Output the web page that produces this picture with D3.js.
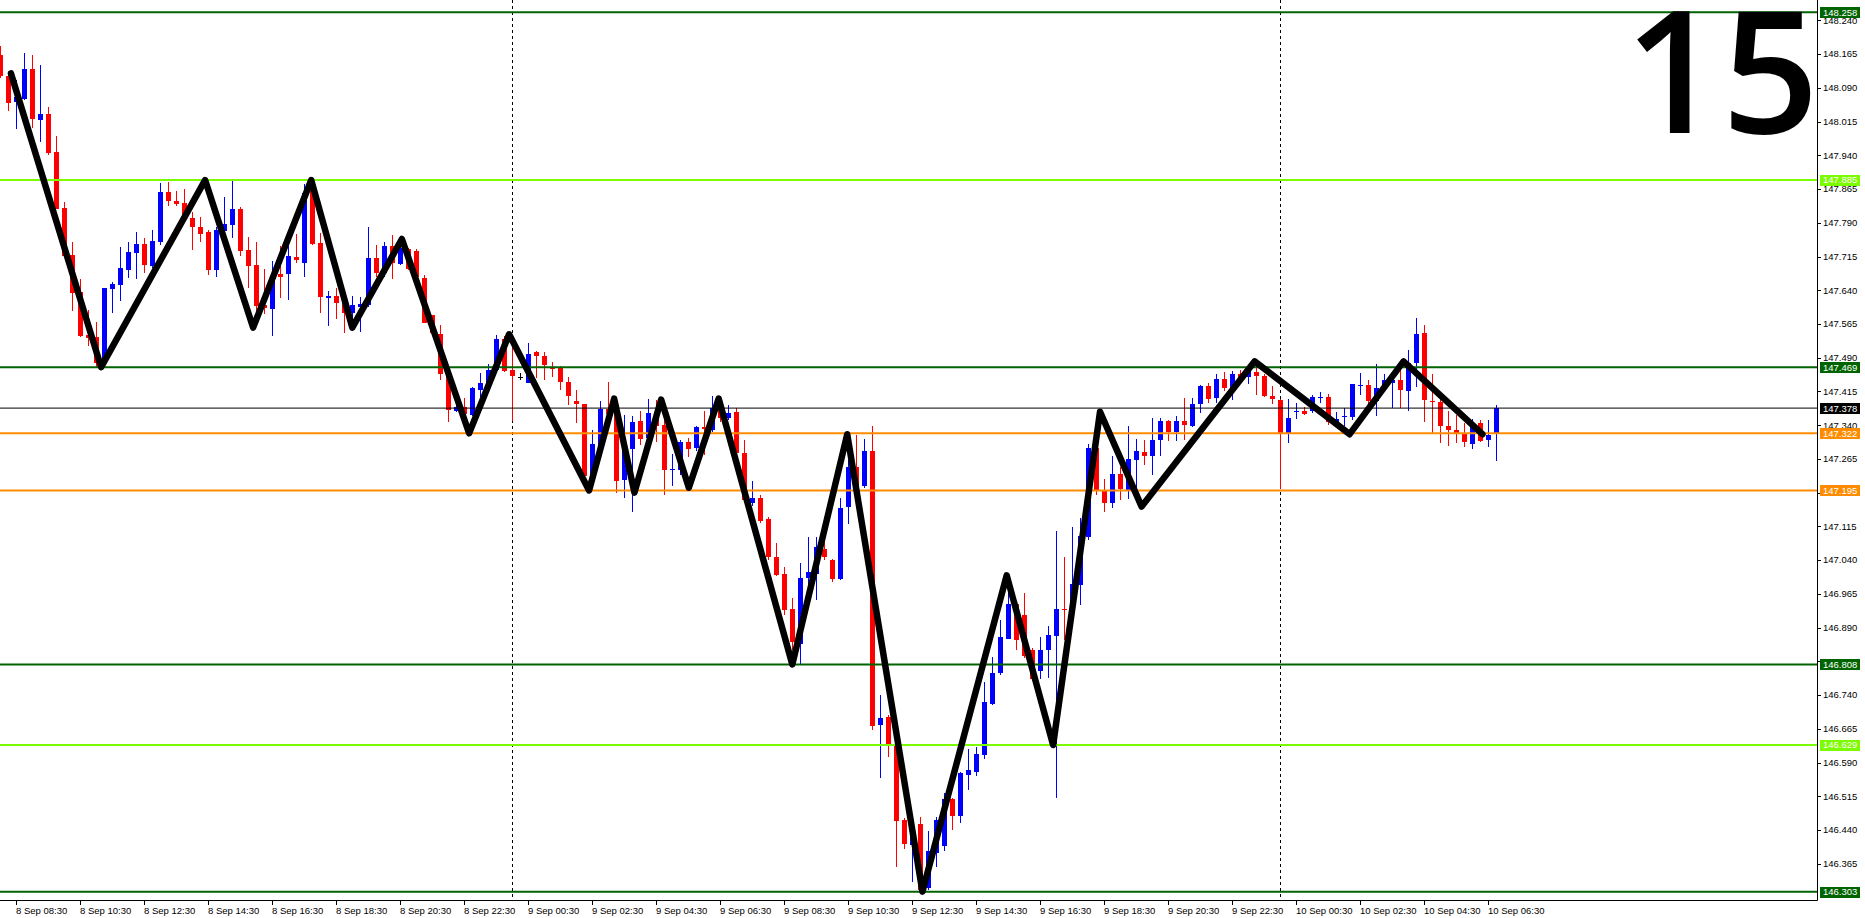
<!DOCTYPE html>
<html><head><meta charset="utf-8">
<script src="https://cdn.jsdelivr.net/npm/d3@7"></script>
<style>html,body{margin:0;padding:0;background:#fff;}svg{display:block;}</style>
</head><body>
<script>
// ---------- DATA ----------
const barStart = "8 Sep 08:00";          // first bar (M15)
const barMinutes = 15;
const opens = [148.163,148.117,148.059,148.067,148.131,148.019,148.032,147.947,147.823,147.718,
147.636,147.541,147.535,147.485,147.644,147.652,147.687,147.722,147.743,147.694,
147.747,147.858,147.838,147.833,147.800,147.781,147.770,147.685,147.772,147.785,
147.821,147.730,147.696,147.607,147.599,147.676,147.677,147.713,147.701,147.863,
147.744,147.623,147.627,147.612,147.590,147.603,147.607,147.712,147.679,147.738,
147.698,147.731,147.728,147.667,147.585,147.543,147.455,147.372,147.380,147.363,
147.418,147.433,147.463,147.532,147.463,147.448,147.435,147.502,147.493,147.468,
147.467,147.437,147.393,147.387,147.227,147.298,147.376,147.372,147.217,147.286,
147.349,147.312,147.369,147.340,147.240,147.240,147.302,147.288,147.335,147.329,
147.378,147.355,147.369,147.278,147.167,147.179,147.132,147.048,147.009,146.931,
146.854,146.999,147.010,147.064,147.041,146.999,147.158,147.248,147.205,147.283,
146.672,146.691,146.629,146.462,146.407,146.453,146.311,146.388,146.403,146.508,
146.470,146.561,146.570,146.607,146.722,146.788,146.866,146.943,146.919,146.840,
146.793,146.840,146.872,146.931,146.929,146.985,147.091,147.289,147.196,147.167,
147.231,147.197,147.263,147.281,147.271,147.306,147.349,147.325,147.349,147.339,
147.387,147.427,147.399,147.442,147.421,147.454,147.448,147.459,147.450,147.404,
147.395,147.322,147.369,147.372,147.372,147.401,147.403,147.346,147.359,147.359,
147.428,147.429,147.393,147.424,147.434,147.440,147.417,147.478,147.544,147.394,
147.391,147.338,147.329,147.323,147.299,147.344,147.308,147.321];
const highs = [148.183,148.121,148.107,148.167,148.163,148.141,148.047,147.983,147.836,147.747,
147.664,147.596,147.569,147.644,147.659,147.736,147.747,147.770,147.756,147.774,
147.878,147.881,147.860,147.865,147.815,147.802,147.774,147.781,147.847,147.883,
147.826,147.759,147.747,147.688,147.705,147.739,147.738,147.765,147.876,147.877,
147.767,147.638,147.644,147.626,147.628,147.626,147.781,147.741,147.748,147.763,
147.753,147.733,147.732,147.674,147.585,147.563,147.463,147.418,147.400,147.424,
147.455,147.476,147.541,147.538,147.518,147.457,147.523,147.505,147.502,147.481,
147.472,147.448,147.419,147.387,147.329,147.394,147.436,147.385,147.363,147.361,
147.372,147.399,147.396,147.366,147.276,147.306,147.312,147.339,147.372,147.405,
147.400,147.386,147.378,147.307,147.216,147.185,147.136,147.078,147.025,146.955,
147.033,147.091,147.091,147.129,147.043,147.178,147.263,147.318,147.309,147.338,
146.740,146.696,146.640,146.467,146.462,146.470,146.438,146.470,146.522,146.511,
146.570,146.620,146.625,146.768,146.825,146.907,146.985,146.947,146.966,146.845,
146.868,146.893,147.104,147.047,147.114,147.133,147.299,147.329,147.221,147.271,
147.246,147.339,147.309,147.306,147.357,147.355,147.352,147.361,147.400,147.400,
147.429,147.434,147.454,147.459,147.461,147.463,147.471,147.483,147.454,147.427,
147.398,147.399,147.389,147.380,147.408,147.414,147.410,147.369,147.378,147.432,
147.456,147.440,147.476,147.454,147.455,147.469,147.507,147.578,147.563,147.454,
147.412,147.372,147.363,147.344,147.353,147.351,147.351,147.384];
const lows = [148.113,148.039,147.999,148.063,148.001,147.970,147.941,147.821,147.715,147.594,
147.535,147.516,147.469,147.481,147.590,147.615,147.667,147.666,147.679,147.689,
147.741,147.828,147.828,147.804,147.730,147.747,147.674,147.669,147.772,147.756,
147.716,147.646,147.587,147.587,147.538,147.622,147.618,147.700,147.669,147.741,
147.590,147.561,147.577,147.544,147.552,147.548,147.603,147.670,147.670,147.665,
147.696,147.685,147.667,147.567,147.543,147.440,147.346,147.370,147.347,147.360,
147.403,147.429,147.459,147.458,147.350,147.440,147.433,147.444,147.440,147.448,
147.418,147.384,147.344,147.225,147.218,147.292,147.352,147.189,147.178,147.148,
147.295,147.309,147.303,147.185,147.205,147.229,147.270,147.282,147.274,147.325,
147.348,147.352,147.274,147.171,147.160,147.123,147.040,147.004,146.918,146.840,
146.810,146.974,146.951,147.040,146.991,146.996,147.121,147.196,147.200,146.662,
146.555,146.602,146.357,146.397,146.325,146.303,146.307,146.358,146.393,146.439,
146.455,146.529,146.559,146.597,146.718,146.785,146.864,146.840,146.823,146.771,
146.776,146.779,146.512,146.862,146.925,146.940,147.085,147.185,147.146,147.156,
147.173,147.176,147.194,147.251,147.230,147.271,147.304,147.305,147.308,147.336,
147.366,147.390,147.389,147.417,147.395,147.440,147.431,147.408,147.403,147.387,
147.199,147.301,147.354,147.363,147.366,147.389,147.340,147.340,147.338,147.352,
147.407,147.385,147.360,147.418,147.378,147.378,147.372,147.424,147.346,147.322,
147.301,147.294,147.300,147.291,147.288,147.302,147.292,147.261];
const closes = [148.117,148.058,148.070,148.133,148.019,148.032,147.945,147.821,147.716,147.633,
147.538,147.535,147.478,147.644,147.655,147.689,147.726,147.743,147.696,147.750,
147.858,147.839,147.832,147.804,147.779,147.765,147.685,147.774,147.787,147.821,
147.727,147.695,147.605,147.600,147.672,147.670,147.716,147.707,147.856,147.743,
147.623,147.628,147.612,147.590,147.607,147.609,147.712,147.679,147.738,147.700,
147.733,147.687,147.670,147.568,147.544,147.455,147.372,147.381,147.365,147.422,
147.434,147.463,147.532,147.461,147.450,147.448,147.499,147.493,147.472,147.466,
147.435,147.406,147.387,147.227,147.298,147.377,147.365,147.217,147.295,147.346,
147.310,147.368,147.338,147.239,147.242,147.303,147.286,147.335,147.331,147.378,
147.355,147.366,147.278,147.174,147.178,147.127,147.048,147.007,146.929,146.857,
147.000,147.013,147.070,147.046,146.999,147.157,147.248,147.207,147.283,146.672,
146.688,146.629,146.461,146.408,146.433,146.307,146.393,146.462,146.508,146.470,
146.566,146.573,146.609,146.725,146.790,146.868,146.943,146.862,146.827,146.776,
146.840,146.873,146.931,146.928,146.986,147.093,147.289,147.196,147.167,147.231,
147.197,147.265,147.282,147.272,147.306,147.349,147.325,147.349,147.340,147.387,
147.427,147.399,147.442,147.421,147.454,147.444,147.465,147.450,147.406,147.397,
147.322,147.356,147.372,147.365,147.403,147.402,147.347,147.353,147.360,147.432,
147.429,147.393,147.423,147.440,147.440,147.418,147.479,147.542,147.394,147.392,
147.338,147.329,147.323,147.302,147.338,147.305,147.319,147.378];

// hand-drawn zigzag (bar position, price)
const zigzagBar   = [1.34,12.6,25.6,31.6,38.9,44.0,50.2,58.6,63.6,73.6,76.75,79.3,82.6,86.1,89.8,99.05,105.9,115.3,125.8,131.6,137.5,142.7,156.8,168.7,175.4,185.3];
const zigzagPrice = [148.122,147.469,147.885,147.557,147.885,147.557,147.754,147.322,147.542,147.195,147.399,147.190,147.397,147.201,147.399,146.808,147.320,146.303,147.006,146.629,147.370,147.159,147.482,147.320,147.482,147.320];

// horizontal levels
const levelPrices = [148.258,147.885,147.469,147.378,147.322,147.195,146.808,146.629,146.303];
const levelKinds  = ["major","minor","major","bid","pivot","pivot","major","minor","major"];

// axes
const priceTicks = [148.240,148.165,148.090,148.015,147.940,147.865,147.790,147.715,147.640,147.565,147.490,147.415,147.340,147.265,147.190,147.115,147.040,146.965,146.890,146.815,146.740,146.665,146.590,146.515,146.440,146.365];
const timeLabels = ["8 Sep 08:30","8 Sep 10:30","8 Sep 12:30","8 Sep 14:30","8 Sep 16:30","8 Sep 18:30","8 Sep 20:30","8 Sep 22:30",
"9 Sep 00:30","9 Sep 02:30","9 Sep 04:30","9 Sep 06:30","9 Sep 08:30","9 Sep 10:30","9 Sep 12:30","9 Sep 14:30","9 Sep 16:30","9 Sep 18:30","9 Sep 20:30","9 Sep 22:30",
"10 Sep 00:30","10 Sep 02:30","10 Sep 04:30","10 Sep 06:30"];
const daySeparators = ["9 Sep 00:00","10 Sep 00:00"];
const periodText = "15";

// ---------- STYLE / LAYOUT ----------
const W = 1865, H = 918, plotR = 1817, plotB = 900;
const levelStyle = {
  major: {color:"#006400", width:2, text:"#ffffff"},
  minor: {color:"#7CFC00", width:2, text:"#ffffff"},
  pivot: {color:"#FF8C00", width:2, text:"#ffffff"},
  bid:   {color:"#000000", width:1, text:"#ffffff"}
};
const fontFam = "'Liberation Sans', Arial, sans-serif";

const months = {Sep:8};
function parseLabel(s){
  const [d,m,hm] = s.split(" ");
  const [hh,mm] = hm.split(":").map(Number);
  return new Date(2023, months[m], +d, hh, mm);
}
const t0 = parseLabel(barStart);
const times = opens.map((_,i)=> d3.timeMinute.offset(t0, i*barMinutes));

const x = d3.scaleTime().domain([t0, d3.timeMinute.offset(t0, barMinutes)]).range([0.3, 8.3]);
const y = d3.scaleLinear().domain([146.2844, 148.2853]).range([plotB, 0]);
const barX = b => x(d3.timeMinute.offset(t0, b*barMinutes));

const svg = d3.select("body").append("svg").attr("width",W).attr("height",H);
svg.append("rect").attr("width",W).attr("height",H).attr("fill","#fff");

const plot = svg.append("g");
plot.append("clipPath").attr("id","clip").append("rect").attr("x",0).attr("y",0).attr("width",plotR).attr("height",plotB);
const inner = plot.append("g").attr("clip-path","url(#clip)");

// day separators
inner.selectAll("line.sep").data(daySeparators).join("line")
  .attr("x1",d=>Math.round(x(parseLabel(d)))+0.5).attr("x2",d=>Math.round(x(parseLabel(d)))+0.5)
  .attr("y1",0).attr("y2",plotB).attr("stroke","#000").attr("stroke-width",1).attr("stroke-dasharray","3,3");

// candles
const bars = opens.map((o,i)=>({t:times[i],o,h:highs[i],l:lows[i],c:closes[i]}));
const colorOf = d => d.c > d.o ? "#0000FF" : (d.c < d.o ? "#FF0000" : "#000000");
const cg = inner.append("g").attr("shape-rendering","crispEdges");
cg.selectAll("line.wick").data(bars).join("line")
  .attr("x1",d=>Math.round(x(d.t))+0.5).attr("x2",d=>Math.round(x(d.t))+0.5)
  .attr("y1",d=>y(d.h)).attr("y2",d=>y(d.l)).attr("stroke",colorOf).attr("stroke-width",1);
cg.selectAll("rect.body").data(bars).join("rect")
  .attr("x",d=>Math.round(x(d.t))-2).attr("width",5)
  .attr("y",d=>Math.round(y(Math.max(d.o,d.c))))
  .attr("height",d=>Math.max(1, Math.round(Math.abs(y(d.o)-y(d.c)))))
  .attr("fill",colorOf);

// levels
const levels = levelPrices.map((p,i)=>({p,k:levelKinds[i]}));
inner.selectAll("line.lvl").data(levels).join("line")
  .attr("x1",0).attr("x2",plotR)
  .attr("y1",d=>y(d.p)).attr("y2",d=>y(d.p))
  .attr("stroke",d=>levelStyle[d.k].color).attr("stroke-width",d=>levelStyle[d.k].width);

// zigzag
const zz = zigzagBar.map((b,i)=>[barX(b), y(zigzagPrice[i])]);
inner.append("path").attr("d", d3.line()(zz)).attr("fill","none")
  .attr("stroke","#000").attr("stroke-width",6.5).attr("stroke-linejoin","round").attr("stroke-linecap","round");

// frame
svg.append("line").attr("x1",plotR+0.5).attr("x2",plotR+0.5).attr("y1",0).attr("y2",plotB+0.5).attr("stroke","#000");
svg.append("line").attr("x1",0).attr("x2",plotR+0.5).attr("y1",plotB+0.5).attr("y2",plotB+0.5).attr("stroke","#000");

// price axis
const ya = svg.append("g").attr("font-family",fontFam).attr("font-size","9.5px");
ya.selectAll("line.tk").data(priceTicks).join("line")
  .attr("x1",plotR).attr("x2",plotR+4).attr("y1",d=>Math.round(y(d))+0.5).attr("y2",d=>Math.round(y(d))+0.5).attr("stroke","#000");
ya.selectAll("text.tk").data(priceTicks).join("text")
  .attr("x",plotR+6).attr("y",d=>y(d)).attr("dy","0.35em").attr("fill","#000").text(d3.format(".3f"));

// level labels
const lg = svg.append("g").attr("font-family",fontFam).attr("font-size","9.5px");
lg.selectAll("rect").data(levels).join("rect")
  .attr("x",plotR+3).attr("y",d=>Math.round(y(d.p))-5).attr("width",40).attr("height",11)
  .attr("fill",d=>levelStyle[d.k].color);
lg.selectAll("text").data(levels).join("text")
  .attr("x",plotR+6).attr("y",d=>y(d.p)).attr("dy","0.36em").attr("fill",d=>levelStyle[d.k].text)
  .text(d=>d3.format(".3f")(d.p));

// time axis
const xa = svg.append("g").attr("font-family",fontFam).attr("font-size","9.5px");
xa.selectAll("line").data(timeLabels).join("line")
  .attr("x1",d=>Math.round(x(parseLabel(d)))+0.5).attr("x2",d=>Math.round(x(parseLabel(d)))+0.5)
  .attr("y1",plotB).attr("y2",plotB+5).attr("stroke","#000");
xa.selectAll("text").data(timeLabels).join("text")
  .attr("x",d=>Math.round(x(parseLabel(d)))).attr("y",plotB+14).attr("fill","#000").text(d=>d);

// timeframe text
svg.append("text").attr("x",1819).attr("y",133).attr("text-anchor","end")
  .attr("font-family","'Open Sans', 'Noto Sans', sans-serif").attr("font-weight","600").attr("font-size","170px").attr("fill","#000").text(periodText);
</script>
</body></html>
